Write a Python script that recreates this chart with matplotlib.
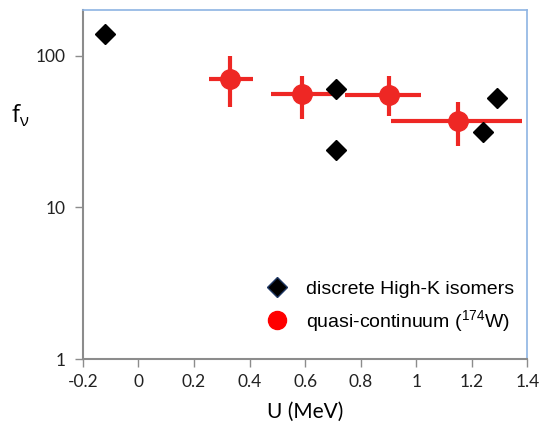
import matplotlib
matplotlib.use('Agg')
import matplotlib.pyplot as plt
import numpy as np

# discrete high-K isomers
u_iso = [-0.12, 0.71, 0.71, 1.24, 1.29]
f_iso = [140, 60.5, 24, 31.5, 53]

# quasi-continuum points for 174W
u_qc = [0.33, 0.59, 0.90, 1.15]
f_qc = [70.5, 56, 55, 37]
u_lo = [0.253, 0.476, 0.742, 0.908]
u_hi = [0.411, 0.699, 1.016, 1.379]
f_lo = [46, 38.4, 40.2, 25.5]
f_hi = [100, 73.8, 73.8, 49.7]

xticks = [-0.2, 0, 0.2, 0.4, 0.6, 0.8, 1, 1.2, 1.4]
xticklabels = ['-0.2', '0', '0.2', '0.4', '0.6', '0.8', '1', '1.2', '1.4']
yticks = [1, 10, 100]

red = '#ee2724'
grey = '#8c8c8c'
frame_blue = '#8eb4e3'
tick_font = 'Lato'

fig = plt.figure(figsize=(5.41, 4.30), dpi=100)
ax = fig.add_axes([0.153, 0.165, 0.822, 0.811])

xerr = [np.array(u_qc) - np.array(u_lo), np.array(u_hi) - np.array(u_qc)]
yerr = [np.array(f_qc) - np.array(f_lo), np.array(f_hi) - np.array(f_qc)]
ax.errorbar(u_qc, f_qc, xerr=xerr, yerr=yerr, fmt='none', ecolor=red,
            elinewidth=3, capsize=0, zorder=2)
ax.plot(u_qc, f_qc, 'o', color=red, markersize=14, zorder=3)
ax.plot(u_iso, f_iso, 'D', color='black', markersize=10, zorder=4)

ax.set_yscale('log')
ax.set_xlim(-0.2, 1.4)
ax.set_ylim(1, 200)
ax.set_xticks(xticks)
ax.set_xticklabels(xticklabels, fontsize=12.5, family=tick_font, color='#222222')
ax.set_yticks(yticks)
ax.set_yticklabels(['1', '10', '100'], fontsize=12.5, family=tick_font, color='#222222')
ax.yaxis.set_minor_locator(matplotlib.ticker.NullLocator())

for side in ['left', 'bottom']:
    ax.spines[side].set_color(grey)
    ax.spines[side].set_linewidth(1.5)
for side in ['top', 'right']:
    ax.spines[side].set_color(frame_blue)
    ax.spines[side].set_linewidth(1.2)
ax.tick_params(axis='both', which='major', direction='out', length=6,
               width=1, color=grey, pad=5)
ax.tick_params(axis='y', pad=6)

ax.set_xlabel('U (MeV)', fontsize=15, family=tick_font, labelpad=8)
ax.set_ylabel(r'f$_\mathregular{ν}$', fontsize=17, family='Open Sans',
              rotation=0)
ax.yaxis.set_label_coords(-0.14, 0.66)

# legend entries
h1 = plt.Line2D([], [], marker='D', linestyle='none', markerfacecolor='black',
                markeredgecolor='#1f3864', markersize=10)
h2 = plt.Line2D([], [], marker='o', linestyle='none', color='#ff0000',
                markersize=13)
ax.legend([h1, h2], ['discrete High-K isomers',
                     r'quasi-continuum ($\mathregular{^{174}}$W)'],
          loc='lower right', bbox_to_anchor=(0.988, 0.05), frameon=False,
          prop={'family': 'Liberation Sans', 'size': 14},
          handletextpad=0.5, labelspacing=0.5, borderaxespad=0)

fig.savefig('out.png', dpi=100)
